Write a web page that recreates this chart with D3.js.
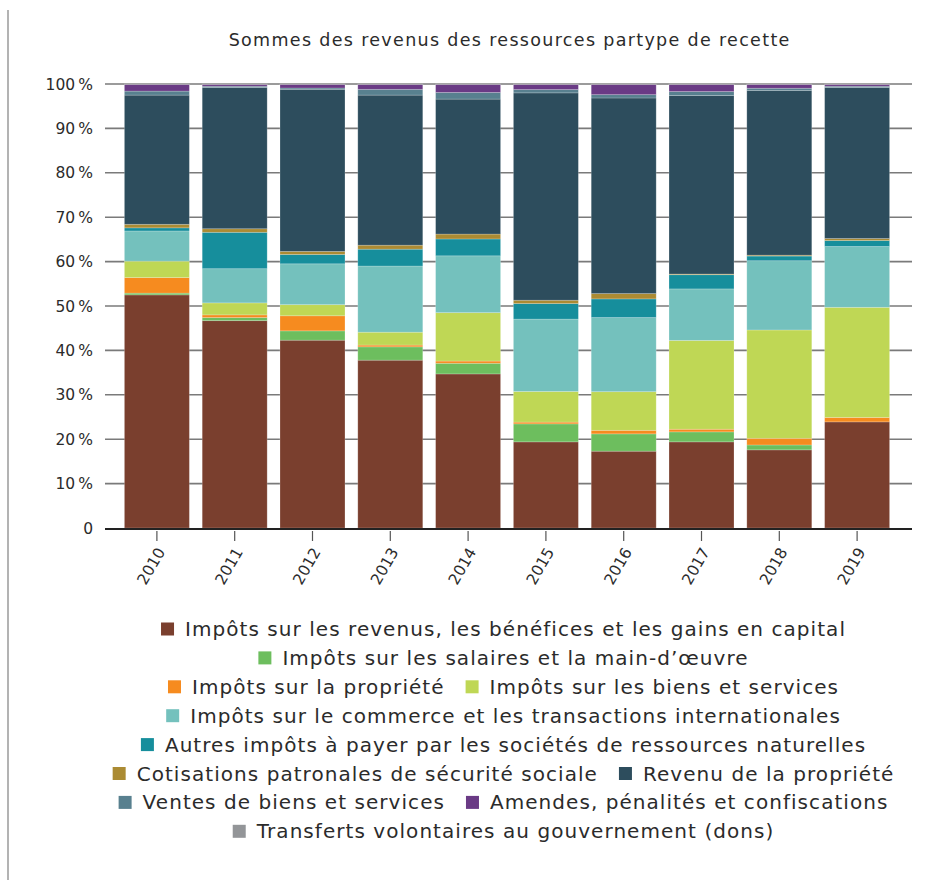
<!DOCTYPE html>
<html>
<head>
<meta charset="utf-8">
<script src="https://cdn.jsdelivr.net/npm/d3@7"></script>
<style>
  html, body { margin: 0; padding: 0; background: #fff; }
  svg { display: block; font-family: "DejaVu Sans", "Noto Sans", sans-serif; }
</style>
</head>
<body>
<svg id="chart" width="944" height="880"></svg>
<script>
// ---- Data (percent shares by year) ----
const years = ["2010","2011","2012","2013","2014","2015","2016","2017","2018","2019"];

const impotsRevenus      = [52.5, 46.7, 42.3, 37.8, 34.7, 19.4, 17.3, 19.4, 17.6, 23.9];
const impotsSalaires     = [0.4, 0.7, 2.1, 3.0, 2.4, 4.05, 3.9, 2.25, 1.1, 0.0];
const impotsPropriete    = [3.5, 0.6, 3.4, 0.4, 0.5, 0.4, 0.8, 0.6, 1.5, 1.0];
const impotsBiens        = [3.7, 2.7, 2.5, 2.9, 10.9, 6.9, 8.7, 20.0, 24.4, 24.8];
const impotsCommerce     = [6.8, 7.7, 9.2, 14.9, 12.8, 16.3, 16.7, 11.6, 15.6, 13.7];
const autresImpots       = [0.7, 8.2, 2.1, 3.8, 3.8, 3.5, 4.2, 3.2, 1.05, 1.35];
const cotisations        = [0.8, 0.8, 0.7, 0.9, 1.1, 0.75, 1.2, 0.15, 0.2, 0.45];
const revenuPropriete    = [29.1, 31.8, 36.5, 33.8, 30.4, 46.7, 44.05, 40.2, 37.1, 34.0];
const ventesBiens        = [0.9, 0.3, 0.3, 1.3, 1.5, 0.75, 0.75, 0.9, 0.5, 0.3];
const amendes            = [1.5, 0.4, 0.8, 1.1, 1.8, 1.15, 2.3, 1.6, 0.85, 0.4];
const transferts         = [0.1, 0.1, 0.1, 0.1, 0.1, 0.1, 0.1, 0.1, 0.1, 0.1];

const seriesNames = [
  "Impôts sur les revenus, les bénéfices et les gains en capital",
  "Impôts sur les salaires et la main-d’œuvre",
  "Impôts sur la propriété",
  "Impôts sur les biens et services",
  "Impôts sur le commerce et les transactions internationales",
  "Autres impôts à payer par les sociétés de ressources naturelles",
  "Cotisations patronales de sécurité sociale",
  "Revenu de la propriété",
  "Ventes de biens et services",
  "Amendes, pénalités et confiscations",
  "Transferts volontaires au gouvernement (dons)"
];
const seriesValues = [impotsRevenus, impotsSalaires, impotsPropriete, impotsBiens, impotsCommerce,
  autresImpots, cotisations, revenuPropriete, ventesBiens, amendes, transferts];
const seriesColors = ["#7a3f2e","#6dbe5e","#f68b1f","#bfd755","#74c1bd","#168e9c",
  "#ab8b33","#2d4d5d","#58808f","#6a3a85","#939598"];

const yTicks = [0, 0.1, 0.2, 0.3, 0.4, 0.5, 0.6, 0.7, 0.8, 0.9, 1.0];
const title = "Sommes des revenus des ressources partype de recette";
const legendRows = [[0],[1],[2,3],[4],[5],[6,7],[8,9],[10]];

// ---- Build table ----
const keys = seriesNames.map((_, i) => "s" + i);
const table = years.map((y, j) => {
  const row = { year: y };
  keys.forEach((k, i) => row[k] = seriesValues[i][j]);
  return row;
});
const stacked = d3.stack().keys(keys).offset(d3.stackOffsetExpand)(table);

const svg = d3.select("#chart");

// left border
svg.append("line").attr("x1", 8).attr("x2", 8).attr("y1", 10).attr("y2", 880)
  .attr("stroke", "#9a9a9a").attr("stroke-width", 1.5);

// title (letter-spacing fitted to reference width)
const tt = svg.append("text").attr("x", 509).attr("y", 46).attr("text-anchor", "middle")
  .attr("font-size", 17.5).attr("fill", "#2b2b2b").text(title);
const tw = tt.node().getComputedTextLength();
const tls = Math.max(0, (562 - tw) / title.length);
tt.attr("letter-spacing", tls).attr("x", 509 + tls / 2);

const x = d3.scaleBand().domain(years).range([102, 912]).paddingInner(0.165).paddingOuter(0.288);
const y = d3.scaleLinear().domain([0, 1]).range([528, 84]);

// gridlines
svg.append("g").selectAll("line").data(yTicks.filter(t => t > 0)).join("line")
  .attr("x1", 105).attr("x2", 912)
  .attr("y1", d => y(d)).attr("y2", d => y(d))
  .attr("stroke", "#7a7a7a").attr("stroke-width", 1.6);

// y labels
const fmt = d => d === 0 ? "0" : Math.round(d * 100) + "\u2009%";
svg.append("g").selectAll("text").data(yTicks).join("text")
  .attr("x", 93).attr("y", d => y(d)).attr("dy", "0.36em")
  .attr("text-anchor", "end").attr("font-size", 15.5).attr("fill", "#2b2b2b")
  .text(fmt);

// bars
svg.append("g").selectAll("g").data(stacked).join("g")
  .attr("fill", (d, i) => seriesColors[i])
  .selectAll("rect").data(d => d).join("rect")
  .attr("x", d => x(d.data.year))
  .attr("width", x.bandwidth())
  .attr("y", d => y(d[1]))
  .attr("height", d => Math.max(0, y(d[0]) - y(d[1])))
  .attr("stroke", "rgba(255,255,255,0.25)").attr("stroke-width", 0.8);

// zero line
svg.append("line").attr("x1", 105).attr("x2", 912).attr("y1", y(0) + 1).attr("y2", y(0) + 1)
  .attr("stroke", "#222").attr("stroke-width", 2);

// x ticks
svg.append("g").selectAll("line").data(years).join("line")
  .attr("x1", d => x(d) + x.bandwidth() / 2).attr("x2", d => x(d) + x.bandwidth() / 2)
  .attr("y1", 531).attr("y2", 541)
  .attr("stroke", "#555").attr("stroke-width", 1.2);

svg.append("g").selectAll("text").data(years).join("text")
  .attr("transform", d => `translate(${x(d) + x.bandwidth() / 2 + 4},${549}) rotate(-60)`)
  .attr("text-anchor", "end").attr("dy", "0.35em")
  .attr("font-size", 15.5).attr("fill", "#2b2b2b").text(d => d);

// legend (letter-spacing fitted so first row text matches reference width)
const legFont = 20;
const probe = svg.append("text").attr("font-size", legFont).text(seriesNames[0]);
const legLS = Math.max(0, (661 - probe.node().getComputedTextLength()) / seriesNames[0].length);
probe.remove();
const legend = svg.append("g");
const rowY0 = 629, rowStep = 28.9, sq = 13, gapText = 11, itemGap = 21;
legendRows.forEach((row, r) => {
  const g = legend.append("g");
  let cx = 0;
  row.forEach(i => {
    const item = g.append("g").attr("transform", `translate(${cx},0)`);
    item.append("rect").attr("x", 0).attr("y", -sq / 2).attr("width", sq).attr("height", sq)
      .attr("fill", seriesColors[i]);
    const t = item.append("text").attr("x", sq + gapText).attr("y", 0).attr("dy", "0.35em")
      .attr("font-size", legFont).attr("letter-spacing", legLS)
      .attr("fill", "#2b2b2b").text(seriesNames[i]);
    cx += sq + gapText + t.node().getComputedTextLength() + itemGap;
  });
  const w = cx - itemGap - legLS;
  g.attr("transform", `translate(${503 - w / 2},${rowY0 + r * rowStep})`);
});
</script>
</body>
</html>
